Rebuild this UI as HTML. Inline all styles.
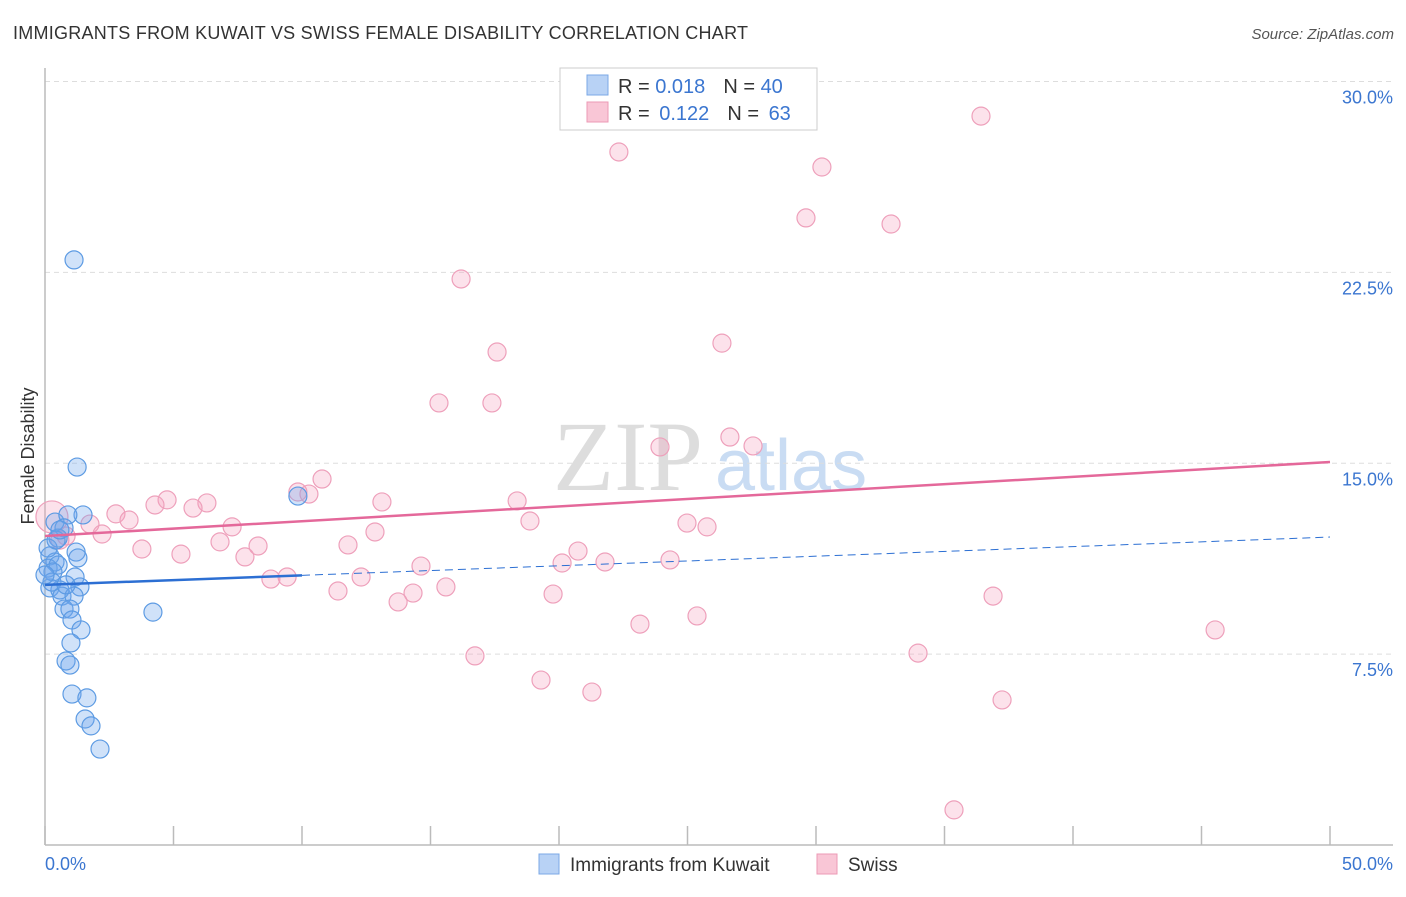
<!DOCTYPE html>
<html><head><meta charset="utf-8"><style>
body{margin:0;background:#fff;font-family:"Liberation Sans",sans-serif;}
svg text{font-family:"Liberation Sans",sans-serif;}
</style></head><body>
<svg id="chart" width="1406" height="892" xmlns="http://www.w3.org/2000/svg">
<text x="13" y="39" font-size="18" fill="#333" textLength="735">IMMIGRANTS FROM KUWAIT VS SWISS FEMALE DISABILITY CORRELATION CHART</text>
<text x="1394" y="39" font-size="15" fill="#555" text-anchor="end" font-style="italic">Source: ZipAtlas.com</text>
<text x="553" y="490" font-size="100" fill="#ddd" font-family="Liberation Serif" style="font-family:'Liberation Serif',serif">ZIP</text>
<text x="715" y="490" font-size="72" fill="#c9dcf3">atlas</text>
<g id="grid"></g>
<g id="axes"></g>
<g id="marks"></g>
<text transform="translate(34,456) rotate(-90)" font-size="18" fill="#333" text-anchor="middle">Female Disability</text>
<g>
<rect x="560" y="68" width="257" height="62" fill="#fff" stroke="#ccc"/>
<rect x="587" y="75" width="21" height="20" fill="#b8d2f5" stroke="#7ba8e6"/>
<rect x="587" y="102" width="21" height="20" fill="#f9c6d6" stroke="#ec9ab5"/>
<text x="618" y="93" font-size="20" fill="#333">R = <tspan fill="#3b76d0">0.018</tspan><tspan dx="18">N = </tspan><tspan fill="#3b76d0">40</tspan></text>
<text x="618" y="120" font-size="20" fill="#333">R = <tspan fill="#3b76d0" dx="4">0.122</tspan><tspan dx="18">N = </tspan><tspan fill="#3b76d0" dx="4">63</tspan></text>
</g>
<g>
<rect x="539" y="854" width="20" height="20" fill="#b8d2f5" stroke="#7ba8e6"/>
<text x="570" y="871" font-size="19" fill="#333">Immigrants from Kuwait</text>
<rect x="817" y="854" width="20" height="20" fill="#f9c6d6" stroke="#ec9ab5"/>
<text x="848" y="871" font-size="19" fill="#333">Swiss</text>
</g>
</svg>
<script>
const yTicks=[7.5,15,22.5,30];
const yTickLabels=["7.5%","15.0%","22.5%","30.0%"];
const xTicks=[0,5,10,15,20,25,30,35,40,45,50];
const kuwaitX=[1.13,1.25,9.84,4.20,1.48,0.39,0.89,0.74,0.51,1.21,1.28,0.19,0.39,0.12,0.51,0.31,1.17,0.19,1.36,0.58,0.66,1.13,0.74,0.97,1.05,1.40,1.01,0.82,0.97,1.05,1.63,1.56,1.79,2.14,0.12,0.27,0.43,0.00,0.58,0.82];
const kuwaitY=[22.99,14.85,13.71,9.15,12.97,12.69,12.97,12.46,12.06,11.51,11.28,11.36,11.12,10.88,11.00,10.73,10.53,10.10,10.14,10.02,9.78,9.78,9.27,9.27,8.84,8.45,7.94,7.23,7.07,5.93,5.78,4.95,4.68,3.77,11.67,10.33,11.98,10.61,12.38,10.22];
const swissX=[36.42,22.33,30.23,29.61,32.92,16.19,17.59,26.34,15.33,17.39,26.65,23.93,27.55,10.78,9.84,10.27,13.11,18.37,4.75,6.30,4.28,5.76,2.76,3.27,1.75,18.87,24.98,25.76,7.28,12.84,2.22,0.82,0.27,6.81,11.79,8.29,3.77,5.29,20.74,7.78,20.12,21.79,24.32,14.63,12.30,9.42,8.79,15.60,11.40,14.32,19.77,13.74,36.89,25.37,23.15,45.53,33.97,16.73,19.30,21.28,37.24,35.37,0.58];
const swissY=[28.64,27.23,26.64,24.64,24.40,22.24,19.37,19.72,17.37,17.37,16.03,15.64,15.68,14.38,13.87,13.79,13.48,13.52,13.56,13.44,13.36,13.24,13.01,12.77,12.61,12.73,12.65,12.50,12.50,12.30,12.22,12.14,12.89,11.91,11.79,11.75,11.63,11.43,11.55,11.32,11.08,11.12,11.20,10.96,10.53,10.53,10.45,10.14,9.98,9.90,9.86,9.55,9.78,9.00,8.68,8.45,7.54,7.43,6.48,6.01,5.70,1.38,11.98];
const kuwaitTrend=[10.22,12.10];
const swissTrend=[12.14,15.05];
const kuwaitMaxX=10;

const NS="http://www.w3.org/2000/svg";
const xs=v=>45+v*25.7;
const ys=v=>845-v*25.45;
function mk(tag,attrs,parent){const e=document.createElementNS(NS,tag);for(const k in attrs)e.setAttribute(k,attrs[k]);parent.appendChild(e);return e;}
const grid=document.getElementById('grid'),axes=document.getElementById('axes'),marks=document.getElementById('marks');
yTicks.forEach((t,i)=>{
 const l=mk('line',{x1:45,x2:1393,y1:ys(t),y2:ys(t),stroke:'#ddd','stroke-dasharray':'5,4'},grid);
 
 
 const tx=mk('text',{x:1393,y:ys(t)+22,'font-size':18,fill:'#3b76d0','text-anchor':'end'},grid);
 tx.textContent=yTickLabels[i];
 
 
});
const ya=mk('line',{x1:45,x2:45,y1:68,y2:845,stroke:'#bbb','stroke-width':1.5},axes);


const xa=mk('line',{x1:45,x2:1393,y1:845,y2:845,stroke:'#bbb','stroke-width':1.5},axes);


xTicks.forEach(t=>{
 const l=mk('line',{x1:xs(t),x2:xs(t),y1:826,y2:845,stroke:'#bbb','stroke-width':1.5},axes);
 
 
});
const xl0=mk('text',{x:45,y:870,'font-size':18,fill:'#3b76d0'},axes);xl0.textContent='0.0%';


const xl1=mk('text',{x:1393,y:870,'font-size':18,fill:'#3b76d0','text-anchor':'end'},axes);xl1.textContent='50.0%';


swissX.forEach((x,i)=>{
 const c=mk('circle',{cx:xs(x),cy:ys(swissY[i]),r:(i===32?16:9),fill:'rgba(244,160,190,0.3)',stroke:'#eea0bb','stroke-width':1.2},marks);
 
 
});
kuwaitX.forEach((x,i)=>{
 const c=mk('circle',{cx:xs(x),cy:ys(kuwaitY[i]),r:9,fill:'rgba(110,165,235,0.32)',stroke:'#5d9be3','stroke-width':1.2},marks);
 
 
});
const ky=x=>kuwaitTrend[0]+(kuwaitTrend[1]-kuwaitTrend[0])*x/50;
const kl=mk('line',{x1:xs(0),y1:ys(ky(0)),x2:xs(kuwaitMaxX),y2:ys(ky(kuwaitMaxX)),stroke:'#2c6fd3','stroke-width':2.5},marks);


const kd=mk('line',{x1:xs(kuwaitMaxX),y1:ys(ky(kuwaitMaxX)),x2:xs(50),y2:ys(ky(50)),stroke:'#2c6fd3','stroke-width':1,'stroke-dasharray':'8,5'},marks);


const sl=mk('line',{x1:xs(0),y1:ys(swissTrend[0]),x2:xs(50),y2:ys(swissTrend[1]),stroke:'#e4689a','stroke-width':2.5},marks);


</script>
</body></html>
